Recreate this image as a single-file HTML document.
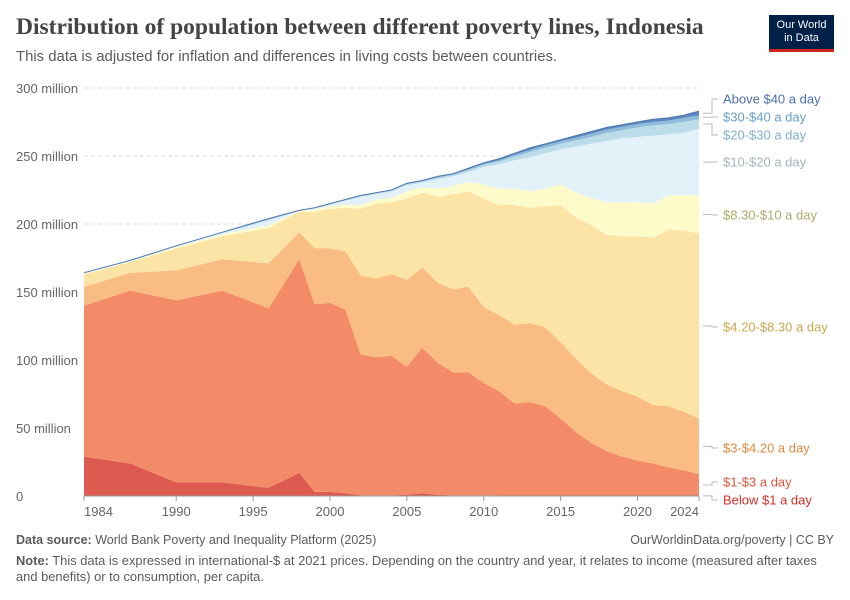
<!DOCTYPE html>
<html><head><meta charset="utf-8"><style>
body{margin:0;background:#fff;font-family:"Liberation Sans",sans-serif;}
#wrap{position:relative;width:850px;height:600px;overflow:hidden;}
</style></head><body>
<div id="wrap">
<div style="position:absolute;left:16px;top:14px;font-family:'Liberation Serif',serif;font-weight:bold;font-size:23.5px;color:#444;white-space:nowrap;">Distribution of population between different poverty lines, Indonesia</div>
<div style="position:absolute;left:16px;top:49px;font-size:14.9px;color:#5b5b5b;white-space:nowrap;">This data is adjusted for inflation and differences in living costs between countries.</div>
<div style="position:absolute;left:769px;top:15px;width:65px;height:37px;background:#002147;color:#fff;font-size:11px;line-height:13px;text-align:center;padding-top:4px;box-sizing:border-box;border-bottom:3px solid #ce261e;">Our World<br>in Data</div>
<svg id="chart" width="850" height="600" style="position:absolute;left:0;top:0;font-family:'Liberation Sans',sans-serif;"></svg>
<div style="position:absolute;left:16px;top:533px;font-size:12.5px;color:#5b5b5b;"><b>Data source:</b> World Bank Poverty and Inequality Platform (2025)</div>
<div style="position:absolute;right:16px;top:533px;font-size:12.5px;color:#5b5b5b;">OurWorldinData.org/poverty | CC BY</div>
<div style="position:absolute;left:16px;top:553px;width:810px;font-size:12.9px;line-height:16px;color:#5b5b5b;"><b>Note:</b> This data is expressed in international-$ at 2021 prices. Depending on the country and year, it relates to income (measured after taxes and benefits) or to consumption, per capita.</div>
</div>
<script>
const years=[1984,1987,1990,1993,1996,1998,1999,2000,2001,2002,2003,2004,2005,2006,2007,2008,2009,2010,2011,2012,2013,2014,2015,2016,2017,2018,2019,2020,2021,2022,2023,2024];
// population (millions) living below each threshold (cumulative)
const below1=[29,24,10,10,6,17,3,3,2,0.5,0.5,0.5,0.8,2,0.8,0.5,0.5,0.5,0.4,0.3,0.3,0.3,0.3,0.3,0.3,0.2,0.2,0.2,0.2,0.2,0.2,0.2];
const below3=[140,151,144,151,138,174,141,142,137,104,102,103,95,109,98,91,91,83,77,68,69,66,57,47,39,33,29,26,24,21,19,16];
const below420=[154,164,166,174,171,194,182,182,180,162,160,163,159,168,157,152,154,139,133,126,127,124,113,101,90,82,77,73,67,66,62,57];
const below830=[163,172,182,191,197,209,209,211,212,211,215,216,219,223,220,222,224,219,214,214,212,213,214,205,199,192,191,191,190,196,195,193];
const below10=[163.5,172.5,183,192.5,199,209.5,210.5,213,214,214,218,219,224,227,226,228,231,229,226,226,224,226,229,223,219,216,216,216,215,221,221,221];
const below20=[163.8,172.8,183.6,193.4,202.5,209.7,211.5,214.3,217,220,222,224,228.5,230.5,233,235,238,242,244,247,249,252,255,257,259,261,263,264,265,266,267,270];
const below30=[164,173,183.8,193.7,203.3,209.8,211.8,214.7,217.6,220.6,222.6,224.6,229.3,231.3,234,236,239.5,243.5,246,249.5,253,256,259,261.5,264,267,269,271,272.5,273.5,275,277];
const below40=[164.1,173.1,183.9,193.9,203.7,209.9,211.9,214.9,217.8,220.8,222.8,224.8,229.7,231.7,234.6,236.6,240.3,244.3,247,251,254.5,258,260.8,263.5,266.5,269.5,271.5,273.5,275,276,278,280];
const total=[164.2,173.2,184,194,204,210,212,215,218,221,223,225,230,232,235,237,241,245,248,252,256,259,262,265,268,271,273,275,277,278,280,283];
const yTicks=[0,50,100,150,200,250,300];
const yTickLabels=["0","50 million","100 million","150 million","200 million","250 million","300 million"];
const xTicks=[1984,1990,1995,2000,2005,2010,2015,2020,2024];
const bandNames=["Below $1 a day","$1-$3 a day","$3-$4.20 a day","$4.20-$8.30 a day","$8.30-$10 a day","$10-$20 a day","$20-$30 a day","$30-$40 a day","Above $40 a day"];

const NS="http://www.w3.org/2000/svg";
const svg=document.getElementById('chart');
const x0=84,x1=699,y0=496,y1=88;
function xs(yr){return x0+(yr-1984)/(2024-1984)*(x1-x0);}
function ys(v){return y0-v/300*(y0-y1);}
function mk(tag,attrs){const e=document.createElementNS(NS,tag);for(const k in attrs)e.setAttribute(k,attrs[k]);svg.appendChild(e);return e;}

yTicks.forEach((t,i)=>{
  if(t>0){const g=mk('line',{x1:x0,x2:x1,y1:ys(t),y2:ys(t),stroke:'#ddd','stroke-dasharray':'4,3'});
  
  }
  const tx=mk('text',{x:16,y:ys(t)+5,'font-size':'13','fill':'#666'});
  tx.textContent=yTickLabels[i];
  
  
});

const layers=[new Array(years.length).fill(0),below1,below3,below420,below830,below10,below20,below30,below40,total];
const colors=["#dc5a4f","#f48b68","#f9bc82","#fce4a6","#fefbcb","#e3f2f8","#badde9","#8fbad8","#5b86bf"];
const bandKeys=['below-1','1-3','3-4-20','4-20-8-30','8-30-10','10-20','20-30','30-40','above-40'];
for(let b=0;b<9;b++){
  const lo=layers[b],hi=layers[b+1];
  let d='';
  years.forEach((yr,i)=>{d+=(i?'L':'M')+xs(yr).toFixed(1)+','+ys(hi[i]).toFixed(1);});
  for(let i=years.length-1;i>=0;i--)d+='L'+xs(years[i]).toFixed(1)+','+ys(lo[i]).toFixed(1);
  d+='Z';
  const p=mk('path',{d:d,fill:colors[b]});
  
  
}
let td='';
years.forEach((yr,i)=>{td+=(i?'L':'M')+xs(yr).toFixed(1)+','+ys(total[i]).toFixed(1);});
const tl=mk('path',{d:td,fill:'none',stroke:'#4c78b0','stroke-width':'1'});



const ax=mk('line',{x1:x0,x2:x1,y1:y0,y2:y0,stroke:'#999'});


xTicks.forEach((t,i)=>{
  const tk=mk('line',{x1:xs(t),x2:xs(t),y1:y0,y2:y0+5,stroke:'#999'});
  
  
  const anchor=i===0?'start':(i===xTicks.length-1?'end':'middle');
  const tx=mk('text',{x:xs(t),y:y0+20,'font-size':'13','fill':'#666','text-anchor':anchor});
  tx.textContent=t;
  
  
});

// labels
const labelY=[500,482,448,327,215,162,135,117,99];
const labelColors=["#d73027","#e2553c","#e0893c","#c9a84e","#afa96a","#a3b5bd","#7fb0cc","#6a9fca","#4c6fb0"];
const last=years.length-1;
for(let b=0;b<9;b++){
  const mid=(layers[b][last]+layers[b+1][last])/2;
  const my=ys(mid);
  const ly=labelY[b];
  const ln=mk('path',{d:'M703,'+my.toFixed(1)+'L712,'+my.toFixed(1)+'L712,'+ly+'L718,'+ly,fill:'none',stroke:'#bbb','stroke-width':'1'});
  
  
  const t=mk('text',{x:723,y:ly+4.5,'font-size':'13','fill':labelColors[b]});
  t.textContent=bandNames[b];
  
  
}
</script>
</body></html>
